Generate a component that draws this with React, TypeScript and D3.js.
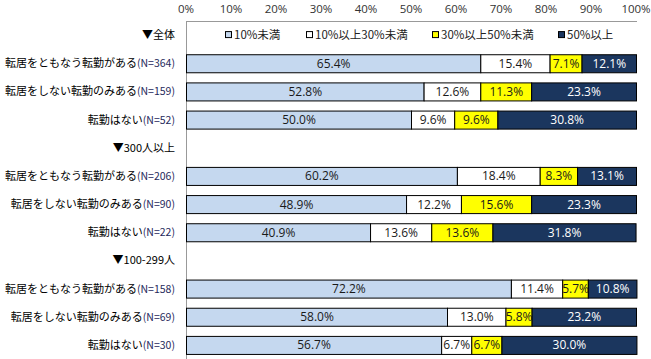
import React from "react";
import * as d3 from "d3";

const rowLabels = [
  "▼全体",
  "転居をともなう転勤がある",
  "転居をしない転勤のみある",
  "転勤はない",
  "▼300人以上",
  "転居をともなう転勤がある",
  "転居をしない転勤のみある",
  "転勤はない",
  "▼100-299人",
  "転居をともなう転勤がある",
  "転居をしない転勤のみある",
  "転勤はない",
];
const rowN = [null, 364, 159, 52, null, 206, 90, 22, null, 158, 69, 30];
const seriesNames = ["10%未満", "10%以上30%未満", "30%以上50%未満", "50%以上"];
const seriesColors = ["#C5D8EF", "#FFFFFF", "#FFFF00", "#1B365E"];
const textColors = ["#1a1a1a", "#1a1a1a", "#1a1a1a", "#FFFFFF"];
const s1 = [0, 65.4, 52.8, 50.0, 0, 60.2, 48.9, 40.9, 0, 72.2, 58.0, 56.7];
const s2 = [0, 15.4, 12.6, 9.6, 0, 18.4, 12.2, 13.6, 0, 11.4, 13.0, 6.7];
const s3 = [0, 7.1, 11.3, 9.6, 0, 8.3, 15.6, 13.6, 0, 5.7, 5.8, 6.7];
const s4 = [0, 12.1, 23.3, 30.8, 0, 13.1, 23.3, 31.8, 0, 10.8, 23.2, 30.0];
const tickValues = [0, 10, 20, 30, 40, 50, 60, 70, 80, 90, 100];

export default function App() {
  const W = 651, H = 359;
  const left = 186, right = 636, top = 21, bottom = 359;
  const x = d3.scaleLinear().domain([0, 100]).range([left, right]);
  const idx = rowLabels.map((_, i) => String(i));
  const y = d3.scaleBand().domain(idx).range([top, bottom]).paddingInner(0.36).paddingOuter(0.18);
  const table = rowLabels.map((_, i) => ({ key: String(i), a: s1[i], b: s2[i], c: s3[i], d: s4[i] }));
  const stack = d3.stack<any>().keys(["a", "b", "c", "d"])(table);
  const font = "'Noto Sans CJK JP', 'Noto Sans', sans-serif";
  const numFont = "'Open Sans', 'Liberation Sans', sans-serif";
  const legendX = [225, 306, 432, 558];
  const legendY = y("0")! + y.bandwidth() / 2;

  return (
    <svg width={W} height={H} style={{ position: "absolute", left: 0, top: 0, background: "#fff" }}>
      {tickValues.map((t) => (
        <text key={t} x={x(t)} y={13} textAnchor="middle" fontSize={11.5} fontFamily={numFont} fill="#333">
          {t}%
        </text>
      ))}
      <line x1={left} x2={right + 1} y1={top + 0.5} y2={top + 0.5} stroke="#999" />
      <line x1={left + 0.5} x2={left + 0.5} y1={top} y2={bottom} stroke="#999" />
      {stack.map((layer, si) =>
        layer.map((seg, ri) => {
          const v = seg[1] - seg[0];
          if (v <= 0) return null;
          const yy = y(String(ri))!;
          const x0 = x(seg[0]), x1 = x(seg[1]);
          return (
            <g key={si + "-" + ri}>
              <rect x={x0 + 0.5} y={yy + 0.5} width={x1 - x0} height={y.bandwidth()} fill={seriesColors[si]} stroke="#000" strokeWidth={1} />
              <text x={(x0 + x1) / 2 + 0.5} y={yy + y.bandwidth() / 2 + 4.5} textAnchor="middle" fontSize={12} fontFamily={numFont} fill={textColors[si]}>
                {v.toFixed(1)}%
              </text>
            </g>
          );
        })
      )}
      {rowLabels.map((lab, i) => (
        <text key={i} x={175} y={y(String(i))! + y.bandwidth() / 2 + 4} textAnchor="end" fontSize={11} fontFamily={font} fill="#000">
          {lab}
          {rowN[i] != null && <tspan fill="#1F2A5C" fontSize={10.5}>(N={rowN[i]})</tspan>}
        </text>
      ))}
      {seriesNames.map((n, i) => (
        <g key={n}>
          <rect x={legendX[i] + 0.5} y={legendY - 3.5} width={6} height={6} fill={seriesColors[i]} stroke="#000" />
          <text x={legendX[i] + 9} y={legendY + 4} fontSize={11.5} fontFamily={font} fill="#222">
            {n}
          </text>
        </g>
      ))}
    </svg>
  );
}
